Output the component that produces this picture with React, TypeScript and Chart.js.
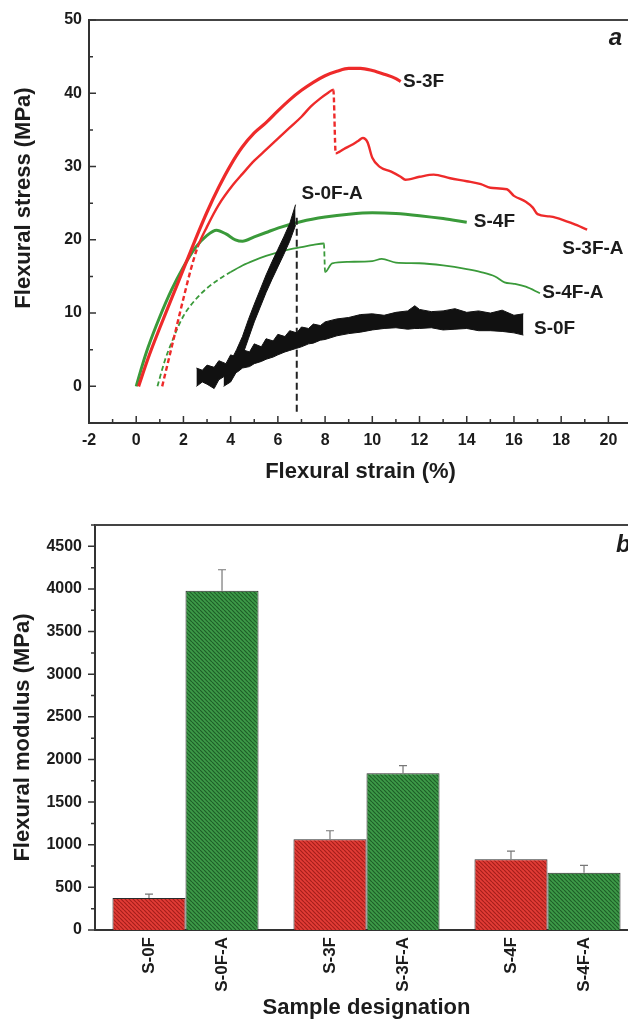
import React, { useEffect, useRef } from 'react';
import { Chart, registerables } from 'chart.js';

Chart.register(...registerables);

const FONT = '"Liberation Sans", Arial, Helvetica, sans-serif';
const INK = '#1c1c1c';
const AXIS = '#333333';
const RED = '#ee2a2a';
const GREEN = '#3a9a3a';

// ---------- Panel a: stress-strain curves ----------
const s3fX = [0.1, 0.5, 1.0, 1.5, 2.0, 2.5, 3.0, 3.5, 4.0, 4.5, 5.0, 5.5, 6.0, 6.5, 7.0, 7.5, 8.0, 8.5, 9.0, 9.5, 10.0, 10.5, 11.0, 11.2];
const s3fY = [0, 3.8, 8.0, 12.0, 16.0, 20.0, 23.8, 27.2, 30.2, 32.7, 34.6, 36.0, 37.6, 39.1, 40.4, 41.5, 42.4, 43.0, 43.4, 43.4, 43.1, 42.6, 42.0, 41.6];

const s3faX = [1.1, 1.4, 1.7, 2.0, 2.3, 2.6, 3.0, 3.5, 4.1, 4.5, 5.0, 5.5, 6.0, 6.5, 7.0, 7.4, 7.8, 8.1, 8.35, 8.45, 8.6, 8.8, 9.1, 9.4, 9.6, 9.8, 10.0, 10.3, 10.8, 11.2, 11.4, 12.0, 12.6, 13.3, 14.0, 14.6, 15.0, 15.7, 16.0, 16.5, 16.8, 17.0, 17.5, 17.8, 18.5, 19.1];
const s3faY = [0, 4, 8, 12, 15.8, 19, 21.8, 24.8, 27.5, 29, 30.8, 32.3, 33.8, 35.3, 36.8, 38.2, 39.3, 40, 40.5, 31.8, 32.0, 32.4, 32.9, 33.5, 33.9, 33.3, 31.2, 30.0, 29.3, 28.6, 28.2, 28.6, 28.9, 28.4, 28.0, 27.6, 27.1, 26.9, 26.0, 25.2, 24.4, 23.5, 23.2, 23.0, 22.2, 21.4];

const s4fX = [0, 0.25, 0.5, 1.0, 1.5, 2.0, 2.5, 3.0, 3.4, 3.8, 4.2, 4.5, 5.0, 5.5, 6.0, 7.0, 8.0, 9.0, 10.0, 11.0, 12.0, 13.0, 14.0];
const s4fY = [0, 2.8, 5.3, 9.5, 13.2, 16.3, 18.9, 20.6, 21.3, 20.8, 20.0, 19.8, 20.4, 21.0, 21.6, 22.5, 23.1, 23.5, 23.7, 23.6, 23.3, 22.9, 22.4];

const s4faX = [0.9, 1.2, 1.5, 2.0, 2.5, 3.0, 3.5, 4.0, 4.5, 5.0, 5.5, 6.0, 6.5, 7.0, 7.5, 7.95, 8.0, 8.3, 9.0, 10.0, 10.4, 11.0, 12.0, 13.0, 14.0, 14.6, 15.2, 15.6, 16.0, 16.5, 17.1];
const s4faY = [0, 3.4, 6.0, 9.6, 11.8, 13.4, 14.6, 15.6, 16.5, 17.2, 17.8, 18.3, 18.7, 19.0, 19.3, 19.5, 15.6, 16.8, 17.0, 17.1, 17.4, 16.9, 16.8, 16.5, 16.0, 15.6, 15.0, 14.2, 14.0, 13.6, 12.7];

// noisy black curves, given as lower / upper edges of the noise band
const s0fX = [2.55, 2.8, 3.0, 3.3, 3.5, 3.8, 4.0, 4.3, 4.5, 4.8, 5.0, 5.3, 5.5, 5.8, 6.0, 6.3, 6.5, 6.8, 7.0, 7.3, 7.5, 7.8, 8.0, 8.5, 9.0, 9.5, 10.0, 10.5, 11.0, 11.5, 11.8, 12.0, 12.5, 13.0, 13.5, 14.0, 14.5, 15.0, 15.5, 16.0, 16.4];
const s0fHigh = [2.5, 2.2, 2.9, 2.6, 3.5, 3.1, 4.3, 3.9, 5.0, 4.7, 5.8, 5.4, 6.5, 6.2, 7.1, 6.8, 7.6, 7.3, 8.1, 7.9, 8.5, 8.3, 8.8, 9.2, 9.4, 9.8, 9.9, 9.7, 10.1, 10.3, 11.0, 10.5, 10.2, 10.3, 10.6, 10.1, 10.3, 10.0, 10.4, 9.7, 9.9];
const s0fLow = [0, 0.6, 0.3, -0.3, 0.9, 1.5, 1.6, 2.0, 2.5, 2.7, 3.1, 3.4, 3.7, 4.0, 4.3, 4.7, 4.9, 5.2, 5.4, 5.8, 5.9, 6.3, 6.4, 6.9, 7.2, 7.4, 7.7, 7.9, 8.0, 7.8, 7.9, 7.9, 8.0, 7.7, 7.8, 7.9, 7.6, 7.6, 7.5, 7.3, 7.0];

const s0faX = [3.7, 4.0, 4.25, 4.5, 4.75, 5.0, 5.25, 5.5, 5.75, 6.0, 6.25, 6.5, 6.75];
const s0faLow = [0, 0.6, 2.0, 4.2, 6.5, 8.8, 10.8, 12.8, 14.6, 16.3, 18.0, 19.8, 22.0];
const s0faHigh = [2.2, 3.4, 5.0, 6.8, 9.1, 11.2, 13.2, 15.2, 17.0, 18.7, 20.4, 22.2, 24.8];

const markerX = [6.8, 6.8];
const markerY = [23, -3.5];

const curveLabels = [
  { text: 'S-3F', x: 11.3, y: 41.6 },
  { text: 'S-0F-A', x: 7.0, y: 26.3 },
  { text: 'S-4F', x: 14.3, y: 22.4 },
  { text: 'S-3F-A', x: 18.05, y: 18.8 },
  { text: 'S-4F-A', x: 17.2, y: 12.75 },
  { text: 'S-0F', x: 16.85, y: 7.8 },
];

// ---------- Panel b: flexural modulus bars ----------
const groups = ['S-0F', 'S-3F', 'S-4F'];
const plainLabels = ['S-0F', 'S-3F', 'S-4F'];
const annealedLabels = ['S-0F-A', 'S-3F-A', 'S-4F-A'];
const plainModulus = [375, 1064, 829];
const plainError = [45, 100, 95];
const annealedModulus = [3980, 1838, 672];
const annealedError = [245, 90, 87];

const pts = (xs: number[], ys: number[]) => xs.map((x, i) => ({ x, y: ys[i] }));

const dashSeg = (until: number) => ({
  borderDash: (c: any) =>
    c.p1.parsed.x <= until || c.p0.parsed.y - c.p1.parsed.y > 3 ? [5, 3] : undefined,
});

function makeHatch(bg: string, fg: string) {
  const c = document.createElement('canvas');
  const s = 4;
  c.width = s;
  c.height = s;
  const g = c.getContext('2d')!;
  g.fillStyle = bg;
  g.fillRect(0, 0, s, s);
  g.strokeStyle = fg;
  g.lineWidth = 1.2;
  g.beginPath();
  for (const k of [-1, 0, 1]) {
    g.moveTo(k * s, 0);
    g.lineTo(k * s + s, s);
  }
  g.stroke();
  return g.createPattern(c, 'repeat')!;
}

const tickFont = { family: FONT, size: 16, weight: 'bold' as const };

const panelAPlugin = {
  id: 'panelA',
  afterDraw(chart: any) {
    const { ctx, chartArea: ca, scales } = chart;
    const x = scales.x;
    const y = scales.y;
    ctx.save();
    ctx.strokeStyle = '#444';
    ctx.lineWidth = 2;
    ctx.beginPath();
    ctx.moveTo(ca.left, ca.top);
    ctx.lineTo(ca.right, ca.top);
    ctx.lineTo(ca.right, ca.bottom);
    ctx.stroke();
    ctx.strokeStyle = AXIS;
    ctx.lineWidth = 1.5;
    ctx.beginPath();
    x.ticks.forEach((t: any) => {
      const px = x.getPixelForValue(t.value);
      const len = t.label ? 7 : 4;
      ctx.moveTo(px, ca.bottom);
      ctx.lineTo(px, ca.bottom - len);
    });
    y.ticks.forEach((t: any) => {
      const py = y.getPixelForValue(t.value);
      const len = t.label ? 7 : 4;
      ctx.moveTo(ca.left, py);
      ctx.lineTo(ca.left + len, py);
    });
    ctx.stroke();
    ctx.fillStyle = INK;
    ctx.font = `bold 19px ${FONT}`;
    ctx.textAlign = 'left';
    ctx.textBaseline = 'middle';
    curveLabels.forEach((l) => {
      ctx.fillText(l.text, x.getPixelForValue(l.x), y.getPixelForValue(l.y));
    });
    ctx.font = `italic bold 24px ${FONT}`;
    ctx.textAlign = 'center';
    ctx.fillText('a', x.getPixelForValue(20.3), y.getPixelForValue(47.5));
    ctx.font = `bold 22px ${FONT}`;
    ctx.textAlign = 'center';
    ctx.textBaseline = 'alphabetic';
    ctx.fillText('Flexural strain (%)', (ca.left + ca.right) / 2, ca.bottom + 55);
    ctx.save();
    ctx.translate(30, ca.top + 178);
    ctx.rotate(-Math.PI / 2);
    ctx.fillText('Flexural stress (MPa)', 0, 0);
    ctx.restore();
    ctx.restore();
  },
};

const panelBPlugin = {
  id: 'panelB',
  afterDatasetsDraw(chart: any) {
    const { ctx, scales } = chart;
    const y = scales.y;
    const errs = [plainError, annealedError];
    const vals = [plainModulus, annealedModulus];
    ctx.save();
    ctx.strokeStyle = '#777';
    ctx.lineWidth = 1.2;
    ctx.beginPath();
    [0, 1].forEach((d) => {
      const meta = chart.getDatasetMeta(d);
      meta.data.forEach((bar: any, j: number) => {
        const top = y.getPixelForValue(vals[d][j] + errs[d][j]);
        ctx.moveTo(bar.x, bar.y);
        ctx.lineTo(bar.x, top);
        ctx.moveTo(bar.x - 4, top);
        ctx.lineTo(bar.x + 4, top);
      });
    });
    ctx.stroke();
    ctx.restore();
  },
  afterDraw(chart: any) {
    const { ctx, chartArea: ca, scales } = chart;
    const y = scales.y;
    ctx.save();
    ctx.strokeStyle = '#444';
    ctx.lineWidth = 2;
    ctx.beginPath();
    ctx.moveTo(ca.left, ca.top);
    ctx.lineTo(ca.right, ca.top);
    ctx.lineTo(ca.right, ca.bottom);
    ctx.stroke();
    ctx.strokeStyle = AXIS;
    ctx.lineWidth = 1.5;
    ctx.beginPath();
    y.ticks.forEach((t: any) => {
      const py = y.getPixelForValue(t.value);
      const len = t.label ? 7 : 4;
      ctx.moveTo(ca.left, py);
      ctx.lineTo(ca.left - len, py);
    });
    ctx.stroke();
    ctx.fillStyle = INK;
    ctx.font = `bold 17px ${FONT}`;
    ctx.textAlign = 'right';
    ctx.textBaseline = 'middle';
    const names = [plainLabels, annealedLabels];
    [0, 1].forEach((d) => {
      const meta = chart.getDatasetMeta(d);
      meta.data.forEach((bar: any, j: number) => {
        ctx.save();
        ctx.translate(bar.x, ca.bottom + 7);
        ctx.rotate(-Math.PI / 2);
        ctx.fillText(names[d][j], 0, 0);
        ctx.restore();
      });
    });
    ctx.font = `italic bold 24px ${FONT}`;
    ctx.textAlign = 'left';
    ctx.fillText('b', ca.right - 22, ca.top + 20);
    ctx.font = `bold 22px ${FONT}`;
    ctx.textAlign = 'center';
    ctx.textBaseline = 'alphabetic';
    ctx.fillText('Sample designation', (ca.left + ca.right) / 2, ca.bottom + 84);
    ctx.save();
    ctx.translate(29, (ca.top + ca.bottom) / 2 + 10);
    ctx.rotate(-Math.PI / 2);
    ctx.fillText('Flexural modulus (MPa)', 0, 0);
    ctx.restore();
    ctx.restore();
  },
};

export default function App() {
  const refA = useRef<HTMLCanvasElement>(null);
  const refB = useRef<HTMLCanvasElement>(null);

  useEffect(() => {
    const lineBase = { pointRadius: 0, fill: false, cubicInterpolationMode: 'monotone' as const };
    const bandBase = { pointRadius: 0, fill: false, tension: 0, borderColor: '#111', borderWidth: 1 };
    const chartA = new Chart(refA.current!, {
      type: 'line',
      data: {
        datasets: [
          { ...bandBase, data: pts(s0fX, s0fLow) },
          { ...bandBase, data: pts(s0fX, s0fHigh), fill: '-1', backgroundColor: '#111' },
          { ...bandBase, data: pts(s0faX, s0faLow) },
          { ...bandBase, data: pts(s0faX, s0faHigh), fill: '-1', backgroundColor: '#111' },
          { pointRadius: 0, fill: false, data: pts(markerX, markerY), borderColor: '#222', borderWidth: 2, borderDash: [7, 4] },
          { ...lineBase, data: pts(s3fX, s3fY), borderColor: RED, borderWidth: 3.2 },
          { ...lineBase, data: pts(s3faX, s3faY), borderColor: RED, borderWidth: 2.4, segment: dashSeg(2.6) },
          { ...lineBase, data: pts(s4fX, s4fY), borderColor: GREEN, borderWidth: 3 },
          { ...lineBase, data: pts(s4faX, s4faY), borderColor: GREEN, borderWidth: 1.8, segment: dashSeg(4.0) },
        ],
      },
      options: {
        responsive: false,
        animation: false,
        devicePixelRatio: 1,
        layout: { padding: { left: 0, top: 20, right: 28, bottom: 0 } },
        plugins: { legend: { display: false }, tooltip: { enabled: false } },
        scales: {
          x: {
            type: 'linear',
            min: -2,
            max: 21,
            afterFit: (s: any) => { s.height = 67; },
            ticks: {
              stepSize: 1,
              autoSkip: false,
              maxRotation: 0,
              padding: 8,
              color: INK,
              font: tickFont,
              callback: (v: any) => (v % 2 === 0 && v <= 20 ? String(v) : ''),
            },
            grid: { display: false, drawTicks: false },
            border: { color: AXIS, width: 2 },
          },
          y: {
            type: 'linear',
            min: -5,
            max: 50,
            afterFit: (s: any) => { s.width = 89; },
            ticks: {
              stepSize: 5,
              autoSkip: false,
              padding: 7,
              color: INK,
              font: tickFont,
              callback: (v: any) => (v % 10 === 0 && v >= 0 ? String(v) : ''),
            },
            grid: { display: false, drawTicks: false },
            border: { color: AXIS, width: 2 },
          },
        },
      },
      plugins: [panelAPlugin],
    } as any);

    const redHatch = makeHatch('#e23c36', '#a51f1b');
    const greenHatch = makeHatch('#3d9a48', '#1f5f28');
    const chartB = new Chart(refB.current!, {
      type: 'bar',
      data: {
        labels: groups,
        datasets: [
          { data: plainModulus, backgroundColor: redHatch, borderColor: '#2b2b2b', borderWidth: 1, categoryPercentage: 0.807, barPercentage: 1 },
          { data: annealedModulus, backgroundColor: greenHatch, borderColor: '#2b2b2b', borderWidth: 1, categoryPercentage: 0.807, barPercentage: 1 },
        ],
      },
      options: {
        responsive: false,
        animation: false,
        devicePixelRatio: 1,
        layout: { padding: { left: 0, top: 35, right: 22, bottom: 0 } },
        plugins: { legend: { display: false }, tooltip: { enabled: false } },
        scales: {
          x: {
            afterFit: (s: any) => { s.height = 91; },
            ticks: { display: false },
            grid: { display: false, drawTicks: false },
            border: { color: AXIS, width: 2 },
          },
          y: {
            min: 0,
            max: 4750,
            afterFit: (s: any) => { s.width = 95; },
            ticks: {
              stepSize: 250,
              autoSkip: false,
              padding: 13,
              color: INK,
              font: tickFont,
              callback: (v: any) => (v % 500 === 0 && v <= 4500 ? String(v) : ''),
            },
            grid: { display: false, drawTicks: false },
            border: { color: AXIS, width: 2 },
          },
        },
      },
      plugins: [panelBPlugin],
    } as any);

    return () => {
      chartA.destroy();
      chartB.destroy();
    };
  }, []);

  return (
    <div style={{ position: 'absolute', left: 0, top: 0, width: 628, height: 1021, overflow: 'hidden', background: '#fff' }}>
      <canvas ref={refA} width={660} height={490} style={{ position: 'absolute', left: 0, top: 0, display: 'block' }} />
      <canvas ref={refB} width={660} height={531} style={{ position: 'absolute', left: 0, top: 490, display: 'block' }} />
    </div>
  );
}
